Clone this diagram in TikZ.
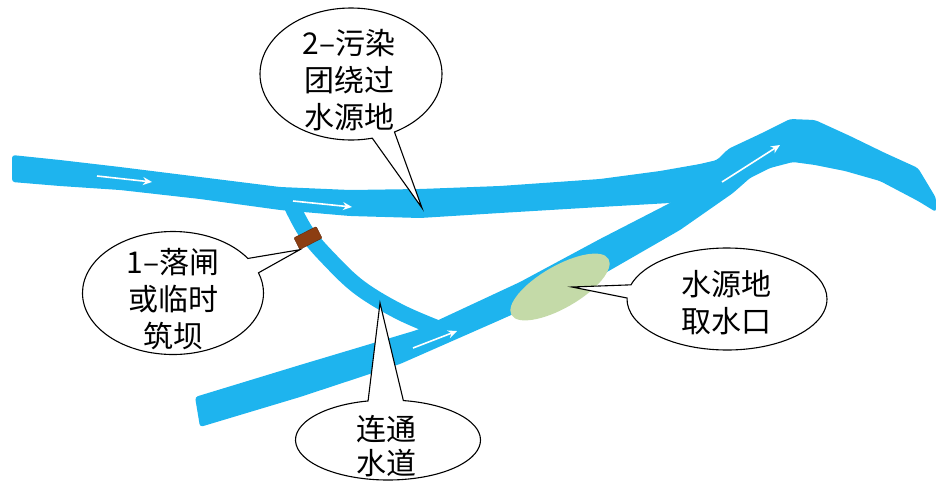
\documentclass[tikz,border=0pt]{standalone}
\usepackage{fontspec}
\newfontfamily\cjk{Noto Sans CJK SC}
\usetikzlibrary{shapes,shapes.callouts,arrows.meta,positioning,calc}
\definecolor{riverblue}{RGB}{30,180,238}
\definecolor{intakegreen}{RGB}{196,218,168}
\definecolor{dambrown}{RGB}{140,62,18}

\tikzset{
	bubble/.style={ellipse callout, draw=black, line width=1.1pt, fill=white,
		inner sep=0pt, callout pointer arc=15},
	bubbletext/.style={font=\cjk\fontsize{30pt}{37pt}\selectfont, align=center, inner sep=0pt},
	flow/.style={white, line width=1.6pt, -{Stealth[length=9pt,width=8pt]}},
}

\begin{document}
\begin{tikzpicture}[x=1pt,y=-1pt]
	\useasboundingbox (0,0) rectangle (936,488);
	
	% Lower river, from the bottom left up over the bend to the right edge
	\fill[riverblue, rounded corners=3pt] (195,397) -- (300,365) -- (417,330) -- (520,282) -- (600,239)
		-- (670,203) -- (705,180) -- (728,149) -- (760,134) -- (790,119) -- (815,120) -- (850,136)
		-- (885,153) -- (918,168) -- (936,198) -- (936,212) -- (918,201) -- (880,181) -- (845,171)
		-- (815,165) -- (793,162) -- (770,168) -- (750,178) -- (733,193) -- (680,230) -- (607,272)
		-- (500,320) -- (400,364) -- (300,397) -- (200,427) -- cycle;
	
	% Upper river, joining the lower one near the bend
	\fill[riverblue, rounded corners=3pt] (12,155) -- (60,160) -- (120,167) -- (200,177) -- (280,187)
		-- (350,190) -- (420,189) -- (500,186) -- (600,179) -- (660,171) -- (700,164) -- (717,160)
		-- (728,149) -- (725,190) -- (670,203) -- (600,207) -- (500,213) -- (420,218) -- (350,216)
		-- (280,210) -- (200,199) -- (120,190) -- (60,186) -- (12,182) -- cycle;
	
	% Connecting channel
	\draw[riverblue, line width=16pt] plot[smooth, tension=0.6] coordinates
		{(289,200) (306,232) (330,260) (360,288) (400,312) (442,330)};
	
	% Flow direction
	\draw[flow] (97,176) -- (152,182);
	\draw[flow] (293,201) -- (352,207);
	\draw[flow] (413,348) -- (457,331);
	\draw[flow] (722,182) -- (780,145);
	
	% Gate / temporary dam and the intake area
	\node[draw=dambrown!70!black, fill=dambrown, minimum width=25pt, minimum height=13pt,
		inner sep=0pt, rounded corners=1pt, rotate=27] (dam) at (308,238) {};
	\node[ellipse, fill=intakegreen, minimum width=112pt, minimum height=42pt, inner sep=0pt,
		rotate=30] (intake) at (560,287) {};
	
	\coordinate (spilltip) at (422,208);
	\coordinate (intaketip) at (572,287);
	\coordinate (channeltip) at (380,303);
	
	% Callouts
	\node[bubble, minimum width=182pt, minimum height=132pt,
		callout absolute pointer={(spilltip)}] (spill) at (351,74) {};
	\node[bubbletext] (spilltext) at (349,80) {2–污染\\团绕过\\水源地};
	
	\node[bubble, minimum width=181pt, minimum height=123pt,
		callout absolute pointer={(dam.south west)}] (gate) at (173,293) {};
	\node[bubbletext] (gatetext) at (173,299) {1–落闸\\或临时\\筑坝};
	
	\node[bubble, minimum width=200pt, minimum height=102pt,
		callout absolute pointer={(intaketip)}] (source) at (727,299) {};
	\node[bubbletext] (sourcetext) at (726,303) {水源地\\取水口};
	
	\node[bubble, minimum width=185pt, minimum height=80pt, callout pointer arc=22,
		callout absolute pointer={(channeltip)}] (channel) at (388,440) {};
	\node[bubbletext, font=\cjk\fontsize{30pt}{34pt}\selectfont] (channeltext) at (386,446) {连通\\水道};
\end{tikzpicture}
\end{document}
